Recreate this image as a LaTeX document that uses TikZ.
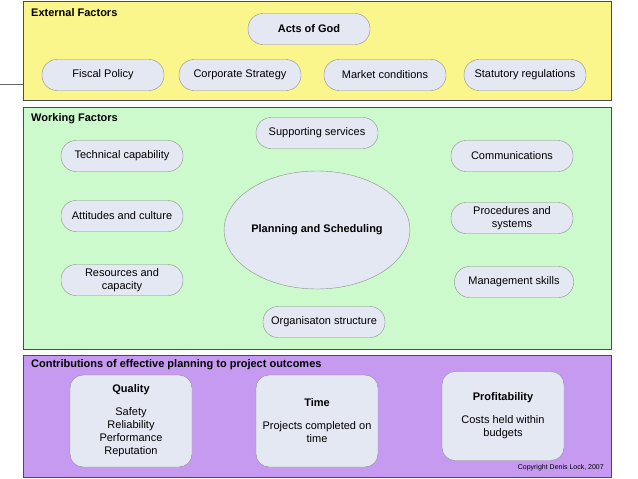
\documentclass[tikz,border=0pt]{standalone}
\usepackage{fontspec}
\setmainfont{Liberation Sans}
\usetikzlibrary{shapes.geometric}
\definecolor{extfill}{HTML}{FBF68C}
\definecolor{workfill}{HTML}{CCFACC}
\definecolor{outfill}{HTML}{C79AF2}
\definecolor{pillfill}{HTML}{E4E8F2}
\tikzset{
  panel/.style={draw=black!70,line width=0.8pt},
  heading/.style={anchor=north west,font=\fontsize{11}{13}\selectfont\bfseries,inner sep=0pt},
  factor/.style={draw=black!45,fill=pillfill,rounded corners=15pt,minimum width=122pt,
    minimum height=31pt,align=center,font=\fontsize{11}{12.5}\selectfont},
  outcome/.style={draw=black!45,fill=pillfill,rounded corners=13pt,minimum width=122pt,
    minimum height=92pt,align=center,font=\fontsize{11}{13}\selectfont}
}
\begin{document}
\begin{tikzpicture}[x=1pt,y=-1pt]
    \useasboundingbox (0,0) rectangle (638,479);
    % panels
    \draw[panel,fill=extfill] (23,1) rectangle (611,100);
    \draw[panel,fill=workfill] (23,107) rectangle (611,349);
    \draw[panel,fill=outfill] (23,355) rectangle (611,477);
    \coordinate (tick) at (0,84);
    \coordinate (tickend) at (23,84);
    \draw[black!60] (tick) -- (tickend);
    \node[heading] (exthead) at (31,8) {External Factors};
    \node[heading] (workhead) at (31,113) {Working Factors};
    \node[heading] (outhead) at (31,359) {Contributions of effective planning to project outcomes};
    % external factors
    \node[factor,font=\fontsize{11}{12.5}\selectfont\bfseries] (god) at (309,29) {Acts of God};
    \node[factor] (fiscal) at (103,75) {Fiscal Policy};
    \node[factor] (corp) at (240,75) {Corporate Strategy};
    \node[factor] (market) at (385,75) {Market conditions};
    \node[factor] (statute) at (525,75) {Statutory regulations};
    % working factors
    \node[ellipse,draw=black!45,fill=pillfill,minimum width=180pt,minimum height=118pt,inner sep=0pt,
      font=\fontsize{11}{13}\selectfont\bfseries] (plan) at (317,230) {Planning and Scheduling};
    \node[factor] (support) at (317,133) {Supporting services};
    \node[factor] (tech) at (122,156) {Technical capability};
    \node[factor] (comms) at (512,156) {Communications};
    \node[factor] (attitude) at (122,216) {Attitudes and culture};
    \node[factor] (proc) at (512,218) {Procedures and\\systems};
    \node[factor] (resource) at (122,280) {Resources and\\capacity};
    \node[factor,minimum width=119pt] (manage) at (514,282) {Management skills};
    \node[factor] (org) at (324,322) {Organisaton structure};
    % outcomes
    \node[outcome] (quality) at (131,421) {\textbf{Quality}\\[10pt]Safety\\Reliability\\Performance\\Reputation};
    \node[outcome] (time) at (317,421) {\textbf{Time}\\[10pt]Projects completed on\\time};
    \node[outcome,minimum height=89pt] (profit) at (503,416) {\textbf{Profitability}\\[10pt]Costs held within\\budgets};
    \node[anchor=east,font=\fontsize{7}{8}\selectfont,inner sep=0pt] (copy) at (604,468) {Copyright Denis Lock, 2007};
\end{tikzpicture}
\end{document}
